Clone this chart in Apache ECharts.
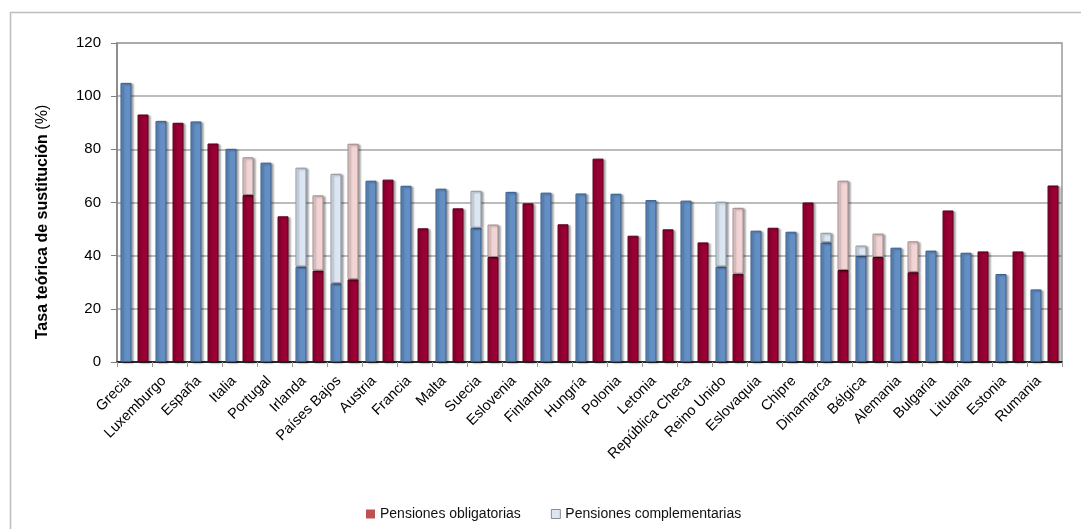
<!DOCTYPE html>
<html>
<head>
<meta charset="utf-8">
<script src="https://cdn.jsdelivr.net/npm/echarts@6/dist/echarts.min.js"></script>
<style>
  html, body { margin: 0; padding: 0; background: #fff; }
</style>
</head>
<body>
<!-- tasa teórica de sustitución -->
<div id="chart" style="width: 1081px; height: 529px"></div>
<script>
var paises = ["Grecia", "Luxemburgo", "España", "Italia", "Portugal", "Irlanda", "Países Bajos", "Austria", "Francia", "Malta", "Suecia", "Eslovenia", "Finlandia", "Hungría", "Polonia", "Letonia", "República Checa", "Reino Unido", "Eslovaquia", "Chipre", "Dinamarca", "Bélgica", "Alemania", "Bulgaria", "Lituania", "Estonia", "Rumania"];

// barra azul (primera de cada país)
var azulObligatorias = [105.0, 90.7, 90.5, 80.2, 75.0, 35.9, 29.6, 68.2, 66.3, 65.2, 50.5, 64.0, 63.7, 63.4, 63.3, 60.9, 60.7, 35.9, 49.4, 49.0, 45.0, 39.9, 43.0, 41.9, 41.1, 33.1, 27.3];
var azulComplementarias = ["-", "-", "-", "-", "-", 37.2, 41.2, "-", "-", "-", 13.9, "-", "-", "-", "-", "-", "-", 24.4, "-", "-", 3.6, 3.9, "-", "-", "-", "-", "-"];

// barra roja (segunda de cada país)
var rojoObligatorias = [93.1, 90.0, 82.2, 62.8, 54.8, 34.4, 31.1, 68.6, 50.3, 57.8, 39.5, 59.7, 51.8, 76.5, 47.5, 49.9, 45.0, 33.2, 50.5, 60.0, 34.6, 39.5, 33.8, 57.0, 41.6, 41.6, 66.4];
var rojoComplementarias = ["-", "-", "-", 14.2, "-", 28.3, 51.0, "-", "-", "-", 12.2, "-", "-", "-", "-", "-", "-", 24.8, "-", "-", 33.6, 8.8, 11.6, "-", "-", "-", "-"];

var yTicks = [0, 20, 40, 60, 80, 100, 120];

var fuente = "Liberation Sans, Arial, sans-serif";
var sombra = {
  shadowColor: "rgba(0,0,0,0.35)",
  shadowBlur: 2,
  shadowOffsetX: 2,
  shadowOffsetY: 1,
};

var myChart = echarts.init(document.getElementById("chart"));
var option = {
  animation: false,
  textStyle: { fontFamily: fuente },
  graphic: [
    {
      // marco exterior
      type: "rect",
      z: -10,
      shape: { x: 10.5, y: 12.5, width: 1100, height: 600 },
      style: { fill: "none", stroke: "#bdbdbd", lineWidth: 1.5 },
    },
    {
      type: "text",
      x: 43,
      y: 222,
      rotation: Math.PI / 2,
      style: {
        text: "{b|Tasa teórica de sustitución }{n|(%)}",
        align: "center",
        verticalAlign: "middle",
        rich: {
          b: { fontFamily: fuente, fontSize: 16, fontWeight: "bold", fill: "#000" },
          n: { fontFamily: fuente, fontSize: 16, fill: "#000" },
        },
      },
    },
  ],
  legend: {
    left: 361,
    top: 502,
    itemWidth: 9,
    itemHeight: 9,
    itemGap: 30,
    icon: "rect",
    textStyle: { fontFamily: fuente, fontSize: 14, color: "#111" },
    data: [
      {
        name: "Pensiones obligatorias",
        itemStyle: { color: "#C0504D", borderColor: "#C0504D", borderWidth: 0 },
      },
      {
        name: "Pensiones complementarias",
        itemStyle: { color: "#DCE6F2", borderColor: "#8c8c8c", borderWidth: 1 },
      },
    ],
  },
  grid: {
    left: 117,
    right: 19,
    top: 43,
    bottom: 167,
    show: true,
    borderColor: "#9a9a9a",
    borderWidth: 1.5,
  },
  xAxis: {
    type: "category",
    data: paises,
    axisLine: { lineStyle: { color: "#000", width: 1.5 } },
    axisTick: { show: true, length: 5, lineStyle: { color: "#9a9a9a" } },
    axisLabel: {
      rotate: 45,
      interval: 0,
      margin: 11,
      padding: [0, 8, 0, 0],
      fontFamily: fuente,
      fontSize: 14.5,
      color: "#000",
    },
  },
  yAxis: {
    type: "value",
    min: yTicks[0],
    max: yTicks[yTicks.length - 1],
    interval: 20,
    axisLine: { show: true, lineStyle: { color: "#808080", width: 1.5 } },
    axisTick: { show: true, length: 6, lineStyle: { color: "#808080" } },
    axisLabel: { margin: 16, fontFamily: fuente, fontSize: 15, color: "#000" },
    splitLine: { lineStyle: { color: "#a6a6a6", width: 1.5 } },
  },
  series: [
    {
      name: "Obligatorias azul",
      type: "bar",
      stack: "azul",
      barWidth: 11,
      barGap: "55%",
      itemStyle: Object.assign({ color: "#638FC5", borderColor: "#3A5F8C", borderWidth: 1 }, sombra),
      data: azulObligatorias,
    },
    {
      name: "Pensiones complementarias",
      type: "bar",
      stack: "azul",
      barWidth: 11,
      itemStyle: Object.assign({ color: "#DCE6F2", borderColor: "#8c95a3", borderWidth: 1 }, sombra),
      data: azulComplementarias,
    },
    {
      name: "Pensiones obligatorias",
      type: "bar",
      stack: "rojo",
      barWidth: 11,
      itemStyle: Object.assign({ color: "#990033", borderColor: "#5c001f", borderWidth: 1 }, sombra),
      data: rojoObligatorias,
    },
    {
      name: "Complementarias rojo",
      type: "bar",
      stack: "rojo",
      barWidth: 11,
      itemStyle: Object.assign({ color: "#F2D4D5", borderColor: "#a08a8a", borderWidth: 1 }, sombra),
      data: rojoComplementarias,
    },
  ],
};

myChart.setOption(option);
</script>
</body>
</html>
